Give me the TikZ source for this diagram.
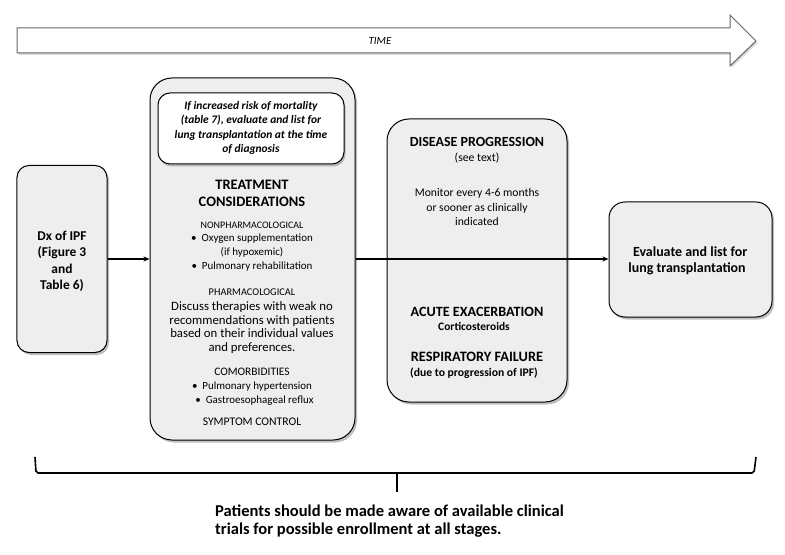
\documentclass[tikz,border=0pt]{standalone}
\usepackage{fontspec}
\setmainfont{Carlito}
\usetikzlibrary{shadows,arrows.meta}
\definecolor{boxfill}{HTML}{EEEEEE}
\newcommand{\fsz}[2]{\fontsize{#1}{#2}\selectfont}
\tikzset{
  stagebox/.style={draw=black, line width=1bp, fill=boxfill, rectangle, rounded corners=#1,
    drop shadow={shadow xshift=2bp, shadow yshift=-2.5bp, opacity=0.5}},
  txt/.style={align=center, inner sep=0pt, font=\fsz{11}{14}},
  btxt/.style={align=center, inner sep=0pt, font=\fsz{14}{17}\bfseries},
  flow/.style={line width=1.6bp, -{Stealth[length=6bp,width=5bp]}},
}
\begin{document}
\begin{tikzpicture}[x=1bp,y=-1bp]
\useasboundingbox (0,0) rectangle (785,555);
% TIME arrow
\path[draw=black!60, line width=1bp, fill=white, drop shadow={shadow xshift=1.5bp, shadow yshift=-2bp, opacity=0.3}]
  (17,28) -- (730,28) -- (730,15) -- (756,41) -- (730,66) -- (730,53) -- (17,53) -- cycle;
\node[inner sep=0pt, font=\fsz{11}{13}\itshape] (time) at (380,41) {TIME};

% Dx box
\node[stagebox=12bp, minimum width=90bp, minimum height=187bp] (dx) at (62,259) {};
\node[btxt, font=\fsz{13.5}{16.5}\bfseries] (dxt) at (62,261.5) {Dx of IPF\\(Figure 3\\and\\Table 6)};

% Treatment box
\node[stagebox=22bp, minimum width=205bp, minimum height=362bp] (treat) at (252.5,259) {};
\node[draw=black, line width=1bp, fill=white, rounded corners=12bp, minimum width=186bp, minimum height=71bp,
  drop shadow={shadow xshift=1.5bp, shadow yshift=-2.5bp, opacity=0.5}] (risk) at (251,128.5) {};
\node[txt, font=\fsz{11.5}{14.5}\bfseries\itshape] (riskt) at (251,128) {If increased risk of mortality\\(table 7), evaluate and list for\\lung transplantation at the time\\of diagnosis};
\node[btxt, font=\fsz{14.5}{17}\bfseries] (tc) at (252,193.5) {TREATMENT\\CONSIDERATIONS};
\node[txt, font=\fsz{10}{13}] (nonph) at (252,225) {NONPHARMACOLOGICAL};
\node[txt] (nonphl) at (252,253) {\textbullet\ \ Oxygen supplementation\\(if hypoxemic)\\\textbullet\ \ Pulmonary rehabilitation};
\node[txt, font=\fsz{10.4}{13}] (pharm) at (252,292) {PHARMACOLOGICAL};
\node[txt, font=\fsz{12.8}{13.8}] (pharml) at (252,327.5) {Discuss therapies with weak no\\recommendations with patients\\based on their individual values\\and preferences.};
\node[txt, font=\fsz{11.5}{14}] (comorb) at (252,372) {COMORBIDITIES};
\node[txt] (comorbl) at (252,394) {\textbullet\ \ Pulmonary hypertension\\\ \ \textbullet\ \ Gastroesophageal reflux};
\node[txt, font=\fsz{11.7}{14}] (sympt) at (252,422) {SYMPTOM CONTROL};

% Disease box
\node[stagebox=22bp, minimum width=180bp, minimum height=283bp] (dis) at (477,260.5) {};
\node[btxt] (dist) at (477,142) {DISEASE PROGRESSION};
\node[txt, font=\fsz{11.8}{14}] (dist2) at (477,158) {(see text)};
\node[txt, font=\fsz{11.7}{14.2}] (mon) at (477,207) {Monitor every 4-6 months\\or sooner as clinically\\indicated};
\node[btxt, font=\fsz{14.2}{17}\bfseries] (acute) at (477,312) {ACUTE EXACERBATION};
\node[txt, font=\fsz{11.5}{13}\bfseries] (cort) at (474,327) {Corticosteroids};
\node[btxt, font=\fsz{14.4}{17}\bfseries] (resp) at (477,357) {RESPIRATORY FAILURE};
\node[txt, font=\fsz{11.7}{14}\bfseries] (due) at (474,373) {(due to progression of IPF)};

% Evaluate box
\node[stagebox=16bp, minimum width=163bp, minimum height=115bp] (eval) at (690.5,259.5) {};
\node[btxt, font=\fsz{14}{16.5}\bfseries] (evalt) at (687,261) {\ \ Evaluate and list for\\lung transplantation};

% connectors
\draw[flow] (dx.east) -- (treat.west);
\draw[flow] (treat.east) -- (treat.east -| eval.west);

% brace
\coordinate (bl) at (35,457);
\coordinate (br) at (756,457);
\coordinate (bm) at (397,473);
\coordinate (bt) at (397,492);
\draw[line width=1.6bp, rounded corners=2bp] (bl) -- (36,473) -- (bm) -- (754,473) -- (br);
\draw[line width=2bp] (bm) -- (bt);
\node[anchor=north west, inner sep=0pt, align=left, font=\fsz{16.6}{18}\bfseries] (note) at (215,505) {Patients should be made aware of available clinical\\trials for possible enrollment at all stages.};
\end{tikzpicture}
\end{document}
